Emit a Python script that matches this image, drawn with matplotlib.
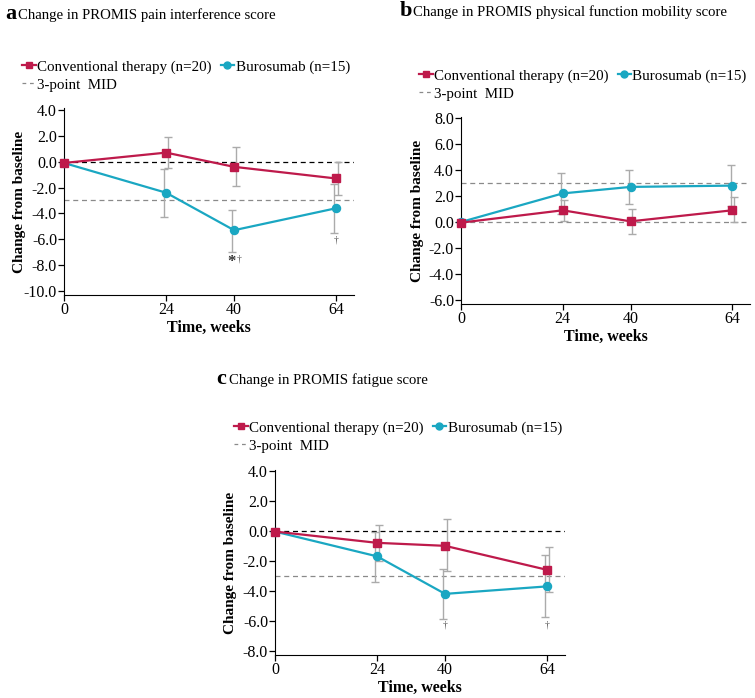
"""PROMIS change-from-baseline panels (a, b, c)."""

import matplotlib.pyplot as plt
from matplotlib.lines import Line2D

plt.rcParams["font.family"] = ["Liberation Serif", "DejaVu Serif"]

W, H = 755, 698

weeks = [0, 24, 40, 64]
xticks = [0, 24, 40, 64]

# panel a: pain interference
a_conv = [-0.1, 0.7, -0.4, -1.3]
a_conv_hi = [-0.1, 1.9, 1.1, 0.0]
a_conv_lo = [-0.1, -0.5, -1.9, -2.6]
a_buro = [-0.1, -2.4, -5.3, -3.6]
a_buro_hi = [-0.1, -0.6, -3.7, -1.7]
a_buro_lo = [-0.1, -4.3, -7.0, -5.5]
a_yticks = [4.0, 2.0, 0.0, -2.0, -4.0, -6.0, -8.0, -10.0]

# panel b: physical function mobility
b_conv = [-0.05, 0.9, 0.05, 0.9]
b_conv_hi = [-0.05, 1.7, 1.0, 1.9]
b_conv_lo = [-0.05, 0.1, -0.9, 0.0]
b_buro = [0.0, 2.2, 2.7, 2.8]
b_buro_hi = [0.0, 3.8, 4.0, 4.4]
b_buro_lo = [0.0, 0.6, 1.4, 1.2]
b_yticks = [8.0, 6.0, 4.0, 2.0, 0.0, -2.0, -4.0, -6.0]

# panel c: fatigue
c_conv = [-0.05, -0.8, -1.0, -2.6]
c_conv_hi = [-0.05, 0.4, 0.8, -1.1]
c_conv_lo = [-0.05, -2.0, -2.7, -4.1]
c_buro = [-0.05, -1.7, -4.2, -3.7]
c_buro_hi = [-0.05, -0.1, -2.55, -1.6]
c_buro_lo = [-0.05, -3.4, -5.9, -5.75]
c_yticks = [4.0, 2.0, 0.0, -2.0, -4.0, -6.0, -8.0]

RED = "#BE1A4B"
CYAN = "#1AA7C2"
GREY = "#ABABAB"


def rect(left, top, right, bottom):
    return [left / W, 1 - bottom / H, (right - left) / W, (bottom - top) / H]


def draw_panel(ax, conv, conv_lo, conv_hi, buro, buro_lo, buro_hi,
               yticks, ylim, mid, zero_color):
    ax.axhline(0, color=zero_color, lw=0.9, ls=(0, (4, 3)), zorder=1)
    ax.axhline(mid, color="#8a8a8a", lw=0.9, ls=(0, (4, 3)), zorder=1)

    for vals, lo, hi, dx in ((conv, conv_lo, conv_hi, 0.4),
                              (buro, buro_lo, buro_hi, -0.4)):
        xs = [w + dx for w in weeks[1:]]
        yerr = [[v - l for v, l in zip(vals[1:], lo[1:])],
                [h - v for v, h in zip(vals[1:], hi[1:])]]
        ax.errorbar(xs, vals[1:], yerr=yerr, fmt="none", ecolor=GREY,
                    elinewidth=1.0, capsize=3, capthick=1.0, zorder=2)

    ax.plot(weeks, conv, color=RED, lw=1.6, marker="s", ms=5.8,
            zorder=4, clip_on=False)
    ax.plot(weeks, buro, color=CYAN, lw=1.6, marker="o", ms=5.8,
            zorder=3, clip_on=False)

    ax.set_xlim(0, 68.2)
    ax.set_ylim(*ylim)
    ax.set_xticks(xticks)
    ax.set_yticks(yticks)
    ax.set_yticklabels([f"{t:.1f}" for t in yticks])
    ax.spines[["top", "right"]].set_visible(False)
    ax.tick_params(labelsize=11.5, length=4, width=0.9, pad=1)
    ax.set_ylabel("Change from baseline", fontsize=11, fontweight="bold",
                  va="center")
    ax.yaxis.set_label_coords(-0.152, 0.5)
    ax.set_xlabel("Time, weeks", fontsize=11.5, fontweight="bold",
                  labelpad=1.5)


def add_legend(fig, x, y):
    handles = [
        Line2D([], [], color=RED, lw=1.6, marker="s", ms=5),
        Line2D([], [], color="#8a8a8a", lw=0.9, ls=(0, (3, 3))),
        Line2D([], [], color=CYAN, lw=1.6, marker="o", ms=5),
    ]
    labels = ["Conventional therapy (n=20)", "3-point  MID", "Burosumab (n=15)"]
    fig.legend(handles, labels, loc="upper left",
               bbox_to_anchor=(x / W, 1 - y / H), ncol=2, frameon=False,
               fontsize=10.8, handlelength=0.9, handletextpad=0.1,
               columnspacing=0.6, labelspacing=0.3, borderpad=0,
               borderaxespad=0)


def add_title(fig, x, y, letter, text):
    fig.text(x / W, 1 - y / H, letter, fontsize=16, fontweight="bold",
             va="baseline", ha="left")
    fig.text((x + 13) / W, 1 - y / H, text, fontsize=10.6, va="baseline",
             ha="left")


fig = plt.figure(figsize=(W / 100, H / 100), dpi=100)

ax_a = fig.add_axes(rect(64, 108, 354, 295))
draw_panel(ax_a, a_conv, a_conv_lo, a_conv_hi, a_buro, a_buro_lo, a_buro_hi,
           a_yticks, (-10.31, 4.15), -3.0, "black")
ax_a.text(39.3, -7.75, "*", ha="center", va="center", fontsize=12,
          fontweight="bold", color="#333333")
ax_a.text(41.3, -7.55, "\u2020", ha="center", va="center", fontsize=7,
          color="#555555")
ax_a.text(64, -6.05, "\u2020", ha="center", va="center", fontsize=7,
          color="#555555")
add_title(fig, 5, 19, "a", "Change in PROMIS pain interference score")
add_legend(fig, 22, 60)

ax_b = fig.add_axes(rect(461, 117, 750, 304))
draw_panel(ax_b, b_conv, b_conv_lo, b_conv_hi, b_buro, b_buro_lo, b_buro_hi,
           b_yticks, (-6.31, 8.08), 3.0, "#8a8a8a")
add_title(fig, 400, 16, "b", "Change in PROMIS physical function mobility score")
add_legend(fig, 419, 69)

ax_c = fig.add_axes(rect(275, 470, 565, 655))
draw_panel(ax_c, c_conv, c_conv_lo, c_conv_hi, c_buro, c_buro_lo, c_buro_hi,
           c_yticks, (-8.27, 4.05), -3.0, "black")
for wk in (40, 64):
    ax_c.text(wk, -6.3, "\u2020", ha="center", va="center", fontsize=7,
              color="#555555")
add_title(fig, 216, 384, "c", "Change in PROMIS fatigue score")
add_legend(fig, 234, 421)

fig.savefig("out.png", dpi=100)
plt.close(fig)
